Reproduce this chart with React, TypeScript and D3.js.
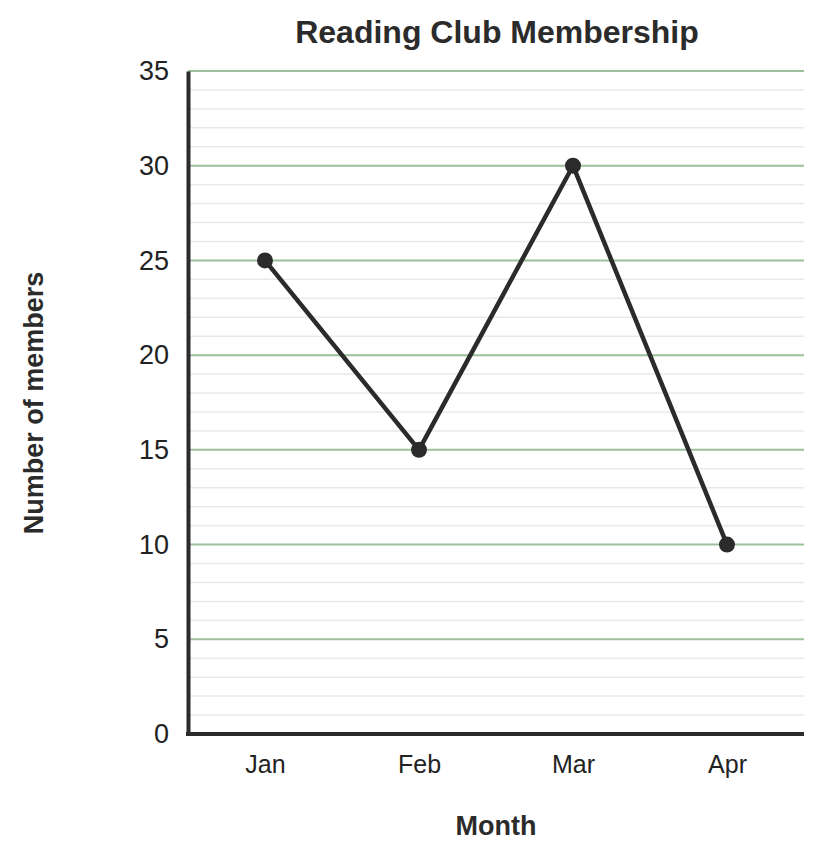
import { useEffect, useRef } from "react";
import * as d3 from "d3";

const months = ["Jan", "Feb", "Mar", "Apr"];
const members = [25, 15, 30, 10];
const yTicks = [0, 5, 10, 15, 20, 25, 30, 35];

const width = 824;
const height = 855;
const marginLeft = 188;
const marginRight = 20;
const marginTop = 71;
const marginBottom = 121;
const font = "Arial, 'Liberation Sans', Helvetica, sans-serif";

function drawChart(svgEl: SVGSVGElement) {
  const svg = d3.select(svgEl);
  svg.selectAll("*").remove();

  const x = d3
    .scalePoint<string>()
    .domain(months)
    .range([marginLeft, width - marginRight])
    .padding(0.5);

  const y = d3
    .scaleLinear()
    .domain([0, 35])
    .range([height - marginBottom, marginTop]);

  // minor gridlines
  svg
    .append("g")
    .selectAll("line")
    .data(d3.range(1, 35).filter((v) => v % 5 !== 0))
    .join("line")
    .attr("x1", marginLeft)
    .attr("x2", width - marginRight)
    .attr("y1", (d) => y(d))
    .attr("y2", (d) => y(d))
    .attr("stroke", "#e5ebe5")
    .attr("stroke-width", 1.5);

  // major gridlines
  svg
    .append("g")
    .selectAll("line")
    .data(yTicks.filter((v) => v > 0))
    .join("line")
    .attr("x1", marginLeft)
    .attr("x2", width - marginRight)
    .attr("y1", (d) => y(d))
    .attr("y2", (d) => y(d))
    .attr("stroke", "#9cbf9c")
    .attr("stroke-width", 2);

  // y axis
  const yAxis = svg
    .append("g")
    .attr("transform", `translate(${marginLeft},0)`)
    .call(d3.axisLeft(y).tickValues(yTicks).tickSize(0).tickPadding(19));
  yAxis.select(".domain").attr("stroke", "#2b2b2b").attr("stroke-width", 4);
  yAxis
    .selectAll("text")
    .attr("font-family", font)
    .attr("font-size", 27)
    .attr("fill", "#222");

  // x axis
  const xAxis = svg
    .append("g")
    .attr("transform", `translate(0,${height - marginBottom})`)
    .call(
      d3
        .axisBottom(x)
        .tickSize(0)
        .tickSizeOuter(0)
        .tickPadding(21),
    );
  xAxis
    .select(".domain")
    .attr("stroke", "#2b2b2b")
    .attr("stroke-width", 4)
    .attr("d", `M${marginLeft - 2},0H${width - marginRight}`);
  xAxis
    .selectAll("text")
    .attr("font-family", font)
    .attr("font-size", 25)
    .attr("fill", "#222");

  // line
  const line = d3
    .line<number>()
    .x((d, i) => x(months[i])!)
    .y((d) => y(d));

  svg
    .append("path")
    .datum(members)
    .attr("d", line)
    .attr("fill", "none")
    .attr("stroke", "#2b2b2b")
    .attr("stroke-width", 4.5)
    .attr("stroke-linejoin", "round");

  svg
    .append("g")
    .selectAll("circle")
    .data(members)
    .join("circle")
    .attr("cx", (d, i) => x(months[i])!)
    .attr("cy", (d) => y(d))
    .attr("r", 8)
    .attr("fill", "#2b2b2b");

  // title
  svg
    .append("text")
    .attr("x", 497)
    .attr("y", 43)
    .attr("text-anchor", "middle")
    .attr("font-family", font)
    .attr("font-size", 32)
    .attr("font-weight", "bold")
    .attr("fill", "#2b2b2b")
    .text("Reading Club Membership");

  // axis titles
  svg
    .append("text")
    .attr("x", 496)
    .attr("y", 835)
    .attr("text-anchor", "middle")
    .attr("font-family", font)
    .attr("font-size", 27)
    .attr("font-weight", "bold")
    .attr("fill", "#2b2b2b")
    .text("Month");

  svg
    .append("text")
    .attr("transform", `translate(43,403) rotate(-90)`)
    .attr("text-anchor", "middle")
    .attr("font-family", font)
    .attr("font-size", 27)
    .attr("font-weight", "bold")
    .attr("fill", "#2b2b2b")
    .text("Number of members");
}

export default function App() {
  const svgRef = useRef<SVGSVGElement>(null);
  useEffect(() => {
    if (svgRef.current) drawChart(svgRef.current);
  }, []);
  return (
    <svg
      ref={svgRef}
      width={width}
      height={height}
      style={{ position: "absolute", left: 0, top: 0, background: "#fff" }}
    />
  );
}
